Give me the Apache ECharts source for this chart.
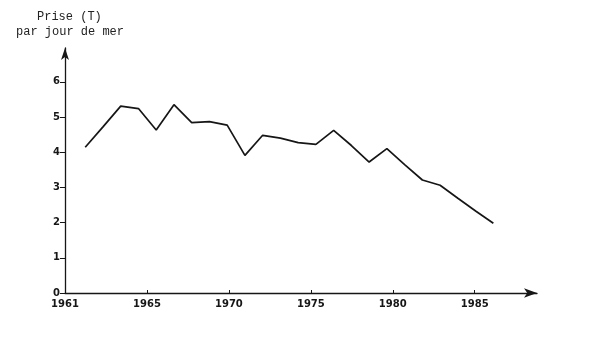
<!DOCTYPE html>
<html>
<head>
<meta charset="utf-8">
<script src="https://cdn.jsdelivr.net/npm/echarts@6/dist/echarts.min.js"></script>
<style>html,body{margin:0;padding:0;background:#fff;}#c{width:600px;height:362px;}</style>
</head>
<body>
<div id="c"></div>
<script>
// Data
var years = [1961,1962,1963,1964,1965,1966,1967,1968,1969,1970,1971,1972,1973,1974,1975,1976,1977,1978,1979,1980,1981,1982,1983,1984];
var catch_t = [4.14,4.72,5.31,5.24,4.63,5.35,4.84,4.87,4.77,3.91,4.48,4.40,4.27,4.22,4.62,4.19,3.72,4.10,3.65,3.21,3.06,2.69,2.33,1.98];
var xTickValues = [1960,1965,1970,1975,1980,1985];
var xTickLabels = ['1961','1965','1970','1975','1980','1985'];
var yTickValues = [0,1,2,3,4,5,6];
var titleLine1 = 'Prise (T)';
var titleLine2 = 'par jour de mer';

var chart = echarts.init(document.getElementById('c'), null, {renderer:'canvas'});
var ink = '#161616';
var labelFont = {fontFamily:'DejaVu Sans', fontWeight:'bold', fontSize:10, color:ink};

chart.setOption({
  backgroundColor:'#fff',
  animation:false,
  title:[
    {text:titleLine1, left:32, top:6, textStyle:{fontFamily:'Liberation Mono', fontWeight:'normal', fontSize:12, color:'#222'}},
    {text:titleLine2, left:11, top:21, textStyle:{fontFamily:'Liberation Mono', fontWeight:'normal', fontSize:12, color:'#222'}}
  ],
  grid:{left:65, right:63, top:48, bottom:69, containLabel:false},
  xAxis:[
    {
      type:'value', min:1960, max:1988.8,
      axisLine:{show:true, lineStyle:{color:ink, width:1.3}, symbol:['none','arrow'], symbolSize:[7,13]},
      axisTick:{show:true, inside:true, length:3, lineStyle:{color:ink}, customValues:xTickValues},
      axisLabel:Object.assign({customValues:xTickValues, margin:6,
        formatter:function(v){var i=xTickValues.indexOf(v);return i>=0?xTickLabels[i]:'';}}, labelFont),
      splitLine:{show:false}
    },
    {
      type:'value', min:1959.86, max:1986.46, show:false, position:'bottom',
      splitLine:{show:false}
    }
  ],
  yAxis:{
    type:'value', min:0, max:6.96,
    axisLine:{show:true, lineStyle:{color:ink, width:1.3}, symbol:['none','arrow'], symbolSize:[6,12]},
    axisTick:{show:true, length:5, lineStyle:{color:ink}, customValues:yTickValues},
    axisLabel:Object.assign({customValues:yTickValues, margin:5}, labelFont),
    splitLine:{show:false}
  },
  series:[{
    type:'line',
    xAxisIndex:1,
    data:years.map(function(y,i){return [y, catch_t[i]];}),
    showSymbol:false, symbol:'none',
    lineStyle:{color:ink, width:1.7},
    z:3
  }]
});
</script>
</body>
</html>
